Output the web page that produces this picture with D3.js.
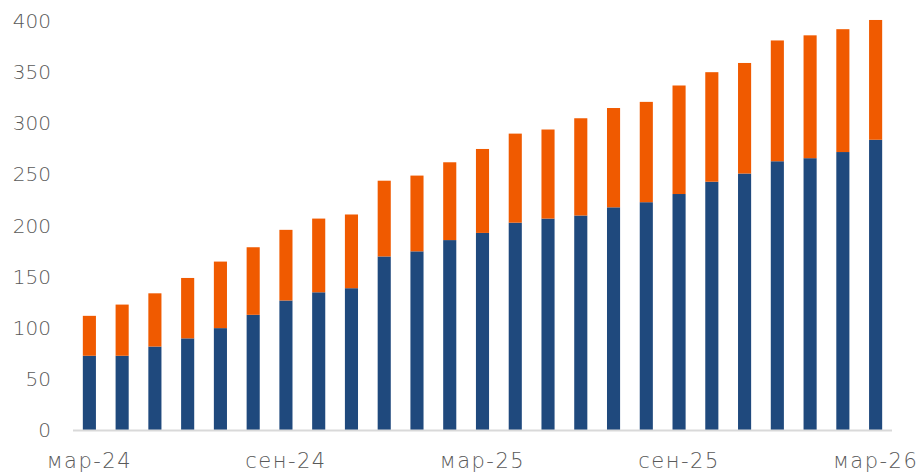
<!DOCTYPE html>
<html><head><meta charset="utf-8">
<script src="https://cdn.jsdelivr.net/npm/d3@7"></script>
<style>body{margin:0;background:#fff}svg{display:block}</style>
</head><body><div id="chart"></div>
<script>
const months = ["мар-24","апр-24","май-24","июн-24","июл-24","авг-24","сен-24","окт-24","ноя-24","дек-24","янв-25","фев-25","мар-25","апр-25","май-25","июн-25","июл-25","авг-25","сен-25","окт-25","ноя-25","дек-25","янв-26","фев-26","мар-26"];
const seriesA = [73,73,82,90,100,113,127,135,139,170,175,186,193,203,207,210,218,223,231,243,251,263,266,272,284];
const totals  = [112,123,134,149,165,179,196,207,211,244,249,262,275,290,294,305,315,321,337,350,359,381,386,392,401];
const seriesB = totals.map((t,i)=>t-seriesA[i]);
const xTickLabels = ["мар-24","сен-24","мар-25","сен-25","мар-26"];
const yTicks = [0,50,100,150,200,250,300,350,400];

const W=922,H=475;
const svg=d3.select("#chart").append("svg").attr("width",W).attr("height",H);
const x=d3.scaleBand().domain(months).range([73,892]).paddingInner(0.6).paddingOuter(0.3);
const y=d3.scaleLinear().domain([0,400]).range([430.5,21]);

const data=months.map((m,i)=>({m,a:seriesA[i],b:seriesB[i]}));
const stack=d3.stack().keys(["a","b"])(data);
const colors={a:"#1f497d",b:"#f05a00"};
svg.selectAll("g.s").data(stack).join("g").attr("fill",d=>colors[d.key])
 .selectAll("rect").data(d=>d).join("rect")
 .attr("x",d=>x(d.data.m)).attr("width",x.bandwidth())
 .attr("y",d=>y(d[1])).attr("height",d=>y(d[0])-y(d[1]));

// baseline
svg.append("line").attr("x1",73).attr("x2",892).attr("y1",y(0)).attr("y2",y(0))
 .attr("stroke","#d9d9d9").attr("stroke-width",2);

const fam="'DejaVu Sans ExtraLight','DejaVu Sans'";
// y labels
const yAxis=d3.axisLeft(y).tickValues(yTicks).tickSize(0).tickPadding(0);
const ga=svg.append("g").attr("transform","translate(51,0)").call(yAxis);
ga.select(".domain").remove();
ga.selectAll("text").attr("font-family",fam).attr("font-weight",300).attr("font-size",20).attr("fill","#595959");

// x labels
const xAxis=d3.axisBottom(x).tickValues(xTickLabels).tickSize(0).tickPadding(0);
const gx=svg.append("g").attr("transform","translate(0,453)").call(xAxis);
gx.select(".domain").remove();
gx.selectAll("text").attr("font-family",fam).attr("font-weight",300).attr("font-size",21).attr("letter-spacing","1.5px").attr("fill","#595959");
</script></body></html>
